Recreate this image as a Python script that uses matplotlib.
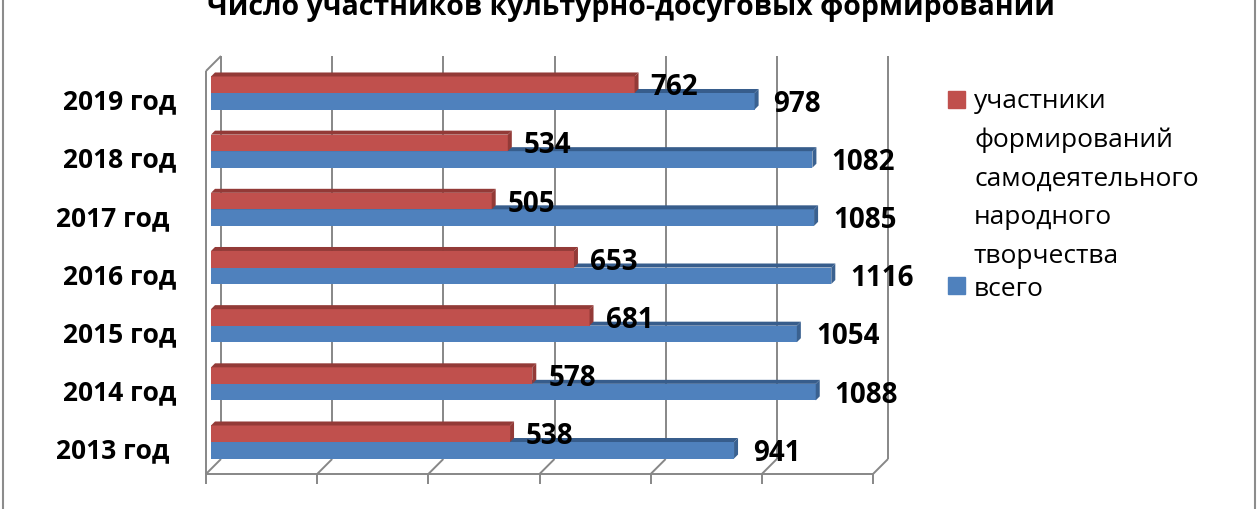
import numpy as np
import matplotlib
matplotlib.use("Agg")
import matplotlib.pyplot as plt
import matplotlib.transforms as mtransforms
from matplotlib.patches import Polygon, Rectangle

plt.rcParams['font.family'] = ['Open Sans', 'DejaVu Sans']

# данные
years = ['2013 год ', '2014 год', '2015 год', '2016 год', '2017 год ', '2018 год', '2019 год']
uchastniki = [538, 578, 681, 653, 505, 534, 762]
vsego = [941, 1088, 1054, 1116, 1085, 1082, 978]
series_names = ['участники\nформирований\nсамодеятельного\nнародного\nтворчества', 'всего']
title = 'Число участников культурно-досуговых формирований'

red = '#C0504D'
red_top = '#933A37'
blue = '#4F81BD'
blue_top = '#375D8C'
blue_side = '#3A6190'
grid_col = '#878787'

W, H = 1260, 510
fig = plt.figure(figsize=(W / 100, H / 100), dpi=100)
ax = fig.add_axes([211 / W, (H - 475) / H, 667 / W, (475 - 57) / H])
ax.set_xlim(0, 1200)
ax.set_ylim(-0.55, 6.636)
ax.axis('off')

# пиксели -> единицы
px_x = 1200 / 667.0
px_y = (6.636 + 0.55) / 418.0
fy = 1 / 418.0

y = np.arange(len(years))
h = 0.284
d = 4  # глубина бара в пикселях

blend = mtransforms.blended_transform_factory(ax.transData, ax.transAxes)
lkw = dict(color=grid_col, lw=1.4, transform=blend, clip_on=False, solid_capstyle='butt')

# рамка псевдо-3D
ticks = np.arange(0, 1201, 200)
for v in ticks:
    ax.plot([v + 10 * px_x, v + 10 * px_x], [15 * fy, 1], **lkw)
    ax.plot([v - 5 * px_x, v + 10 * px_x], [0, 15 * fy], **lkw)
    ax.plot([v - 5 * px_x, v - 5 * px_x], [0, -10 * fy], **lkw)
ax.plot([-5 * px_x, 1200 - 5 * px_x], [0, 0], **lkw)
ax.plot([-5 * px_x, -5 * px_x], [0, 1 - 15 * fy], **lkw)
ax.plot([-5 * px_x, 10 * px_x], [1 - 15 * fy, 1], **lkw)


def bar3d(vals, yc, front, top, side):
    ax.barh(yc, vals, height=h, color=front, edgecolor='none', zorder=3)
    for v, c in zip(vals, yc):
        t = c + h / 2
        b = c - h / 2
        ax.add_patch(Polygon([(0, t), (v, t), (v + d * px_x, t + d * px_y), (d * px_x, t + d * px_y)],
                             closed=True, color=top, lw=0, zorder=3))
        ax.add_patch(Polygon([(v, b), (v, t), (v + d * px_x, t + d * px_y), (v + d * px_x, b + d * px_y)],
                             closed=True, color=side, lw=0, zorder=3))


bar3d(vsego, y - h / 2, blue, blue_top, blue_side)
bar3d(uchastniki, y + h / 2, red, red_top, red_top)

for v, c in zip(uchastniki, y + h / 2):
    ax.annotate(str(v), (v, c), xytext=(16 * 0.72, -2 * 0.72), textcoords='offset points',
                ha='left', va='center', fontsize=20, fontweight='bold', zorder=5)
for v, c in zip(vsego, y - h / 2):
    ax.annotate(str(v), (v, c), xytext=(19 * 0.72, -2 * 0.72), textcoords='offset points',
                ha='left', va='center', fontsize=20, fontweight='bold', zorder=5)

# подписи категорий
for c, lab in zip(y, years):
    ax.annotate(lab, (0, c), xytext=(-35 * 0.72, -8 * 0.72), textcoords='offset points',
                ha='right', va='center', fontsize=19, fontweight='bold', annotation_clip=False)

# легенда
fig.patches.append(Rectangle((948 / W, 1 - 109 / H), 17 / W, 17 / H, transform=fig.transFigure,
                             color=red, figure=fig))
fig.patches.append(Rectangle((948 / W, 1 - 295 / H), 17 / W, 17 / H, transform=fig.transFigure,
                             color=blue, figure=fig))
fig.text(974 / W, 1 - 89 / H, series_names[0], ha='left', va='top', fontsize=19, linespacing=1.71)
fig.text(974 / W, 1 - 289 / H, series_names[1], ha='left', va='center', fontsize=19)

# заголовок (обрезан сверху)
fig.text(631 / W, 1 - 15 / H, title, ha='center', va='baseline', fontsize=20.5, fontweight='bold')

# граница области диаграммы
fig.add_artist(plt.Line2D([3 / W, 3 / W], [0, 1], color='#8c8c8c', lw=1.5, transform=fig.transFigure))
fig.add_artist(plt.Line2D([1255 / W, 1255 / W], [0, 1], color='#8c8c8c', lw=1.5, transform=fig.transFigure))

fig.savefig('out.png', dpi=100)
